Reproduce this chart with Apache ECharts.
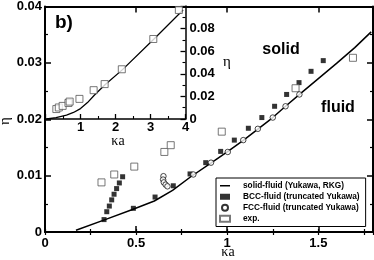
<!DOCTYPE html>
<html>
<head>
<meta charset="utf-8">
<script src="https://cdn.jsdelivr.net/npm/echarts@6/dist/echarts.min.js"></script>
<style>html,body{margin:0;padding:0;background:#fff}#c{width:374px;height:260px}</style>
</head>
<body>
<div id="c"></div>
<script>
// ---- data (kappa*a, eta) ----
var curveMain = [[0.17,0.0003],[0.33,0.0022],[0.48,0.0040],[0.60,0.0055],[0.70,0.0074],[0.80,0.0098],[0.91,0.0122],[1.00,0.0142],[1.09,0.0163],[1.17,0.0183],[1.25,0.0203],[1.32,0.0223],[1.40,0.0245],[1.50,0.0272],[1.60,0.0299],[1.70,0.0327],[1.79,0.0355]];
var bccData = [[0.324,0.0022],[0.339,0.0036],[0.353,0.0046],[0.366,0.0057],[0.379,0.0067],[0.393,0.0077],[0.408,0.0087],[0.426,0.0098],[0.485,0.0042],[0.604,0.0062],[0.704,0.0082],[0.796,0.0103],[0.882,0.0123],[0.964,0.0143],[1.039,0.0163],[1.116,0.0184],[1.19,0.0203],[1.26,0.0223],[1.326,0.0244],[1.394,0.0265],[1.46,0.0285],[1.527,0.0304]];
var fccData = [[0.650,0.0099],[0.648,0.0093],[0.652,0.0088],[0.662,0.0084],[0.672,0.0081],[0.814,0.0102],[0.911,0.0123],[1.003,0.0142],[1.088,0.0163],[1.168,0.0183],[1.25,0.0203],[1.32,0.0223],[1.396,0.0244]];
var expData = [[0.31,0.0088],[0.38,0.0102],[0.49,0.0116],[0.655,0.0142],[0.69,0.0154],[0.97,0.0178],[1.375,0.0255],[1.69,0.0309],[2.18,0.0440],[3.08,0.0708],[3.81,0.0965]];
var curveInset = [[0.03,0.0000],[0.3,0.0012],[0.6,0.0035],[0.8,0.0058],[1.0,0.0092],[1.2,0.0145],[1.4,0.0212],[1.7,0.0303],[2.2,0.0437],[3.1,0.0708],[3.93,0.0965]];
var legendNames = ['solid-fluid (Yukawa, RKG)','BCC-fluid (truncated Yukawa)','FCC-fluid (truncated Yukawa)','exp.'];

var SANS = '"Liberation Sans", Arial, sans-serif';
var SERIF = '"Liberation Serif", "Times New Roman", serif';
var chart = echarts.init(document.getElementById('c'));

function frameAxis(o) {
  var base = {
    axisLine: {show: true, onZero: false, lineStyle: {color: '#000', width: 2}},
    axisTick: {show: true, inside: true, length: 6, lineStyle: {color: '#000', width: 1.5}},
    axisLabel: {show: false},
    splitLine: {show: false}
  };
  return Object.assign(base, o);
}
var lbl = {show: true, color: '#000', fontFamily: SANS, fontWeight: 'bold', fontSize: 13};

chart.setOption({
  animation: false,
  backgroundColor: '#fff',
  grid: [
    {left: 45, right: 1, top: 6, bottom: 28},
    {left: 45.5, top: 6, width: 140, height: 113}
  ],
  xAxis: [
    frameAxis({gridIndex: 0, type: 'value', position: 'bottom', min: 0, max: 1.8, interval: 0.5,
      axisLabel: Object.assign({}, lbl, {margin: 5, showMaxLabel: false})}),
    frameAxis({gridIndex: 0, type: 'value', position: 'top', min: 0, max: 1.8, interval: 0.5}),
    frameAxis({gridIndex: 0, type: 'value', position: 'bottom', min: 0, max: 1.8, interval: 0.25,
      axisLine: {show: false}, axisTick: {show: true, inside: true, length: 3, lineStyle: {color: '#000', width: 1.2}}}),
    frameAxis({gridIndex: 0, type: 'value', position: 'top', min: 0, max: 1.8, interval: 0.25,
      axisLine: {show: false}, axisTick: {show: true, inside: true, length: 3, lineStyle: {color: '#000', width: 1.2}}}),
    frameAxis({gridIndex: 1, type: 'value', position: 'bottom', min: 0, max: 4, interval: 1,
      axisLine: {show: true, onZero: false, lineStyle: {color: '#000', width: 1.5}},
      axisTick: {show: true, inside: true, length: 5, lineStyle: {color: '#000', width: 1.3}},
      minorTick: {show: true, splitNumber: 2, length: 3, lineStyle: {color: '#000', width: 1.1}},
      axisLabel: Object.assign({}, lbl, {margin: 2, showMinLabel: false})})
  ],
  yAxis: [
    frameAxis({gridIndex: 0, type: 'value', position: 'left', min: 0, max: 0.04, interval: 0.01,
      minorTick: {show: true, splitNumber: 2, length: 3, lineStyle: {color: '#000', width: 1.2}},
      axisLabel: Object.assign({}, lbl, {margin: 3})}),
    frameAxis({gridIndex: 0, type: 'value', position: 'right', min: 0, max: 0.04, interval: 0.01,
      minorTick: {show: true, splitNumber: 2, length: 3, lineStyle: {color: '#000', width: 1.2}}}),
    frameAxis({gridIndex: 1, type: 'value', position: 'right', min: 0, max: 0.1, interval: 0.02,
      axisLine: {show: true, onZero: false, lineStyle: {color: '#000', width: 1.5}},
      axisTick: {show: true, inside: true, length: 5, lineStyle: {color: '#000', width: 1.3}},
      minorTick: {show: true, splitNumber: 2, length: 3, lineStyle: {color: '#000', width: 1.1}},
      axisLabel: Object.assign({}, lbl, {margin: 4, showMaxLabel: false})})
  ],
  legend: {
    orient: 'vertical', left: 216, top: 178,
    padding: [3, 6, 3, 3], itemGap: 1.5, itemWidth: 10, itemHeight: 6,
    borderColor: '#000', borderWidth: 1, backgroundColor: '#fff',
    data: [
      {name: legendNames[0], icon: 'path://M0,0H20V3H0Z', itemStyle: {color: '#000', borderWidth: 0}},
      {name: legendNames[1]},
      {name: legendNames[2]},
      {name: legendNames[3]}
    ],
    textStyle: {color: '#000', fontFamily: SANS, fontWeight: 'bold', fontSize: 8.3, padding: [0, 0, 0, 8], lineHeight: 9.5}
  },
  series: [
    {name: legendNames[0], type: 'line', xAxisIndex: 0, yAxisIndex: 0, data: curveMain, symbol: 'none',
      symbolKeepAspect: true, itemStyle: {color: '#000'},
      lineStyle: {color: '#000', width: 1.5}, z: 3},
    {name: legendNames[1], type: 'scatter', xAxisIndex: 0, yAxisIndex: 0, data: bccData, symbol: 'rect', symbolSize: 5,
      symbolKeepAspect: true, itemStyle: {color: '#000'}, z: 4},
    {name: legendNames[2], type: 'scatter', xAxisIndex: 0, yAxisIndex: 0, data: fccData, symbol: 'circle', symbolSize: 5.5,
      symbolKeepAspect: true, itemStyle: {color: '#fff', borderColor: '#000', borderWidth: 0.9}, z: 5},
    {name: legendNames[3], type: 'scatter', xAxisIndex: 0, yAxisIndex: 0, data: expData, symbol: 'rect', symbolSize: 7,
      symbolKeepAspect: true, itemStyle: {color: '#fff', borderColor: '#555', borderWidth: 1}, z: 4},
    {name: 'inset-curve', type: 'line', xAxisIndex: 4, yAxisIndex: 2, data: curveInset, symbol: 'none',
      lineStyle: {color: '#000', width: 1.3}, z: 3},
    {name: 'inset-exp', type: 'scatter', xAxisIndex: 4, yAxisIndex: 2, data: expData, symbol: 'rect', symbolSize: 7,
      itemStyle: {color: '#fff', borderColor: '#555', borderWidth: 1}, z: 4}
  ],
  graphic: [
    {type: 'text', left: 55, top: 13, style: {text: 'b)', fill: '#000', font: 'bold 19px ' + SANS}},
    {type: 'text', x: 281, y: 50, style: {text: 'solid', fill: '#000', font: 'bold 16px ' + SANS, align: 'center', verticalAlign: 'middle'}},
    {type: 'text', x: 338, y: 108, style: {text: 'fluid', fill: '#000', font: 'bold 16px ' + SANS, align: 'center', verticalAlign: 'middle'}},
    {type: 'text', x: 228, y: 252, style: {text: 'κa', fill: '#000', font: '14px ' + SERIF, align: 'center', verticalAlign: 'middle'}},
    {type: 'text', x: 118, y: 141, style: {text: 'κa', fill: '#000', font: '14px ' + SERIF, align: 'center', verticalAlign: 'middle'}},
    {type: 'text', x: 227, y: 62, style: {text: 'η', fill: '#000', font: '15px ' + SERIF, align: 'center', verticalAlign: 'middle'}},
    {type: 'text', x: 5, y: 121, rotation: Math.PI / 2, style: {text: 'η', fill: '#000', font: '15px ' + SERIF, align: 'center', verticalAlign: 'middle'}}
  ]
});
</script>
</body>
</html>
